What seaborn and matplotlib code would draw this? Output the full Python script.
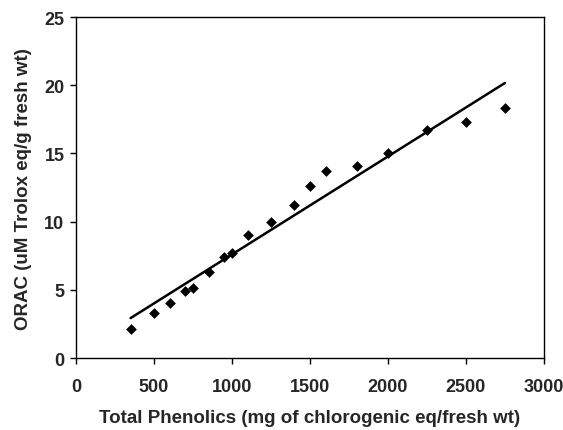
import matplotlib
matplotlib.use("Agg")
import matplotlib.pyplot as plt
import seaborn as sns
import pandas as pd

phenolics = [350, 500, 600, 700, 750, 850, 950, 1000, 1100, 1250, 1400, 1500,
             1600, 1800, 2000, 2250, 2500, 2750]
orac = [2.1, 3.3, 4.0, 4.9, 5.1, 6.3, 7.4, 7.7, 9.0, 10.0, 11.2, 12.6,
        13.7, 14.1, 15.05, 16.7, 17.3, 18.3]
x_ticks = [0, 500, 1000, 1500, 2000, 2500, 3000]
y_ticks = [0, 5, 10, 15, 20, 25]

df = pd.DataFrame({"x": phenolics, "y": orac})

sns.set_style("ticks")
plt.rcParams["font.family"] = ["Liberation Sans", "DejaVu Sans"]
plt.rcParams["font.weight"] = "bold"

fig, ax = plt.subplots(figsize=(5.63, 4.31), dpi=100)
fig.subplots_adjust(left=0.135, right=0.966, top=0.958, bottom=0.167)

sns.regplot(data=df, x="x", y="y", ci=None, ax=ax,
            marker="D", color="black",
            scatter_kws={"s": 30, "alpha": 1, "linewidths": 0, "zorder": 3},
            line_kws={"linewidth": 1.8, "color": "black"})

ax.set_xlim(0, 3000)
ax.set_ylim(0, 25)
ax.set_xticks(x_ticks)
ax.set_yticks(y_ticks)
ax.set_xlabel("Total Phenolics (mg of chlorogenic eq/fresh wt)", fontsize=13.5,
              fontweight="bold", labelpad=10)
ax.set_ylabel("ORAC (uM Trolox eq/g fresh wt)", fontsize=13.5,
              fontweight="bold", labelpad=9)
for lab in ax.get_xticklabels() + ax.get_yticklabels():
    lab.set_fontweight("bold")
ax.tick_params(axis="both", labelsize=13, direction="out", length=4.3,
               width=1, color="black")
ax.tick_params(axis="x", pad=10)
ax.tick_params(axis="y", pad=4)
for s in ax.spines.values():
    s.set_visible(True)
    s.set_color("black")
    s.set_linewidth(1)

fig.savefig("out.png", dpi=100)
